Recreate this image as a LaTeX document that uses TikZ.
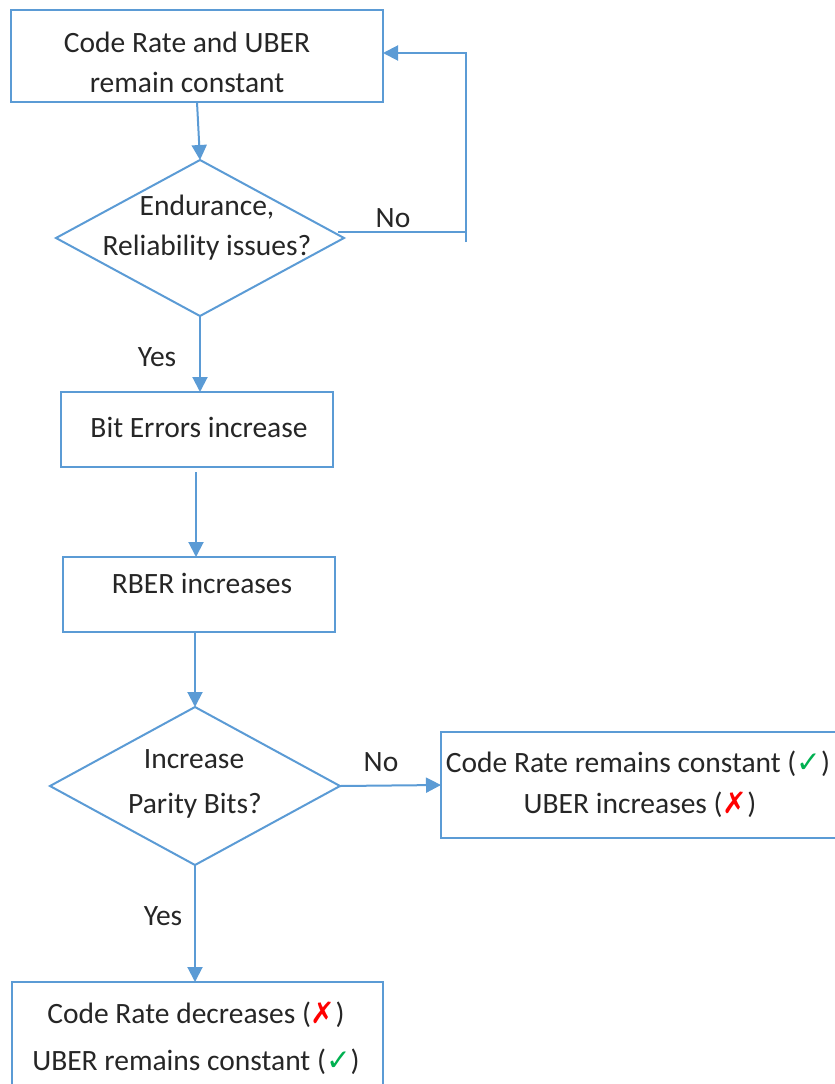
\documentclass[tikz,border=0pt]{standalone}
\usepackage{fontspec}
\setmainfont{Carlito}
\newfontfamily\symfont{DejaVu Sans}
\usetikzlibrary{shapes.geometric,arrows.meta,calc}
\definecolor{flowblue}{HTML}{5B9BD5}
\definecolor{inkgray}{HTML}{262626}
\definecolor{okgreen}{HTML}{00B050}
\definecolor{badred}{HTML}{FF0000}
\newcommand{\okmark}{{\symfont\color{okgreen}✓}}
\newcommand{\badmark}{{\symfont\color{badred}✗}}
\begin{document}
\begin{tikzpicture}[x=1pt,y=-1pt,
  box/.style={draw=flowblue,line width=2pt,rectangle,inner sep=0pt,outer sep=0pt},
  decision/.style={draw=flowblue,line width=2pt,diamond,inner sep=0pt,outer sep=0pt},
  txt/.style={anchor=base,inner sep=0pt,text=inkgray,font=\fontsize{29.5}{36}\selectfont},
  flow/.style={draw=flowblue,line width=2pt,-{Triangle[length=15pt,width=15pt]}},
  link/.style={draw=flowblue,line width=2pt},
]
\useasboundingbox (0,0) rectangle (835,1084);
\clip (0,0) rectangle (835,1084);

% shapes
\node[box,minimum width=372,minimum height=92] (b1) at (197,56) {};
\node[decision,minimum width=288,minimum height=156] (d1) at (200,238) {};
\node[box,minimum width=272,minimum height=75] (b2) at (197,429.5) {};
\node[box,minimum width=272,minimum height=75] (b3) at (199,594.5) {};
\node[decision,minimum width=290,minimum height=158] (d2) at (195,786) {};
\node[box,minimum width=419,minimum height=106] (b4) at (650.5,785) {};
\node[box,minimum width=371,minimum height=118] (b5) at (197.5,1041) {};

% texts
\node[txt] (t1a) at (187,52) {Code Rate and UBER};
\node[txt] (t1b) at (187,92) {remain constant};
\node[txt] (t2a) at (207,215) {Endurance,};
\node[txt] (t2b) at (207,255) {Reliability issues?};
\node[txt] (no1) at (393,227) {No};
\node[txt] (yes1) at (157,366) {Yes};
\node[txt] (t3) at (199,437) {Bit Errors increase};
\node[txt] (t4) at (202,593) {RBER increases};
\node[txt] (t5a) at (194,768) {Increase};
\node[txt] (t5b) at (195,813) {Parity Bits?};
\node[txt] (no2) at (381,771) {No};
\node[txt] (t6a) at (638,772) {Code Rate remains constant (\okmark)};
\node[txt] (t6b) at (640,813) {UBER increases (\badmark)};
\node[txt] (yes2) at (163,925) {Yes};
\node[txt] (t7a) at (196,1023) {Code Rate decreases (\badmark)};
\node[txt] (t7b) at (196,1070) {UBER remains constant (\okmark)};

% loop-back and drop-line coordinates
\coordinate (d1no) at (338,232);
\coordinate (loopA) at (466,232);
\coordinate (loopLow) at (466,242);
\coordinate (loopTop) at (466,53);
\coordinate (drop) at (196,472);

% connectors
\draw[flow] (b1.south) -- (d1.north);
\draw[link] (d1no) -- (loopA);
\draw[flow] (loopLow) -- (loopTop) -- (b1.east |- loopTop);
\draw[flow] (d1.south) -- (d1.south |- b2.north);
\draw[flow] (drop) -- (drop |- b3.north);
\draw[flow] (b3.south -| d2.north) -- (d2.north);
\draw[flow] (d2.east) -- (b4.west);
\draw[flow] (d2.south) -- (d2.south |- b5.north);
\end{tikzpicture}
\end{document}
